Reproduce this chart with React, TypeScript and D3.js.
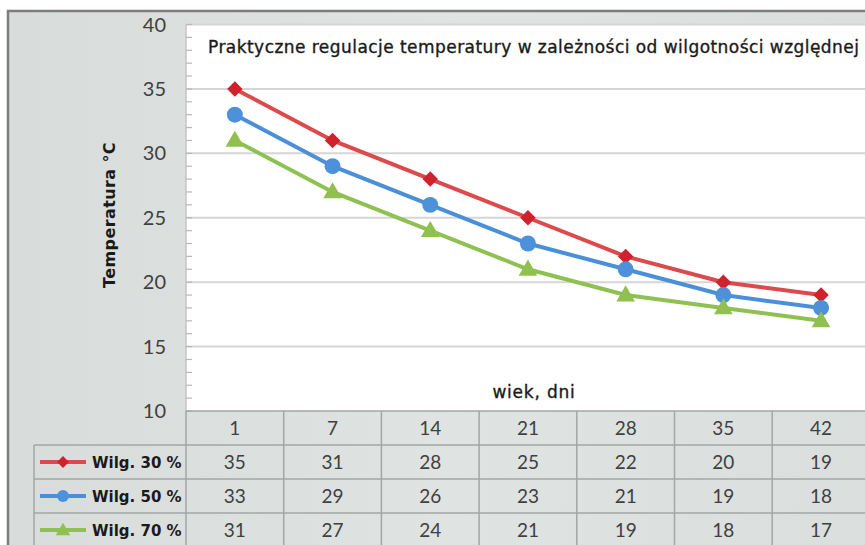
import React from "react";
import * as d3 from "d3";

const days = ["1", "7", "14", "21", "28", "35", "42"];
const wilg30 = [35, 31, 28, 25, 22, 20, 19];
const wilg50 = [33, 29, 26, 23, 21, 19, 18];
const wilg70 = [31, 27, 24, 21, 19, 18, 17];
const seriesNames = ["Wilg. 30 %", "Wilg. 50 %", "Wilg. 70 %"];
const yTicks = [10, 15, 20, 25, 30, 35, 40];

const width = 865;
const height = 545;

const series = [
  { name: seriesNames[0], values: wilg30, line: "#db4a4c", marker: "#d0222c", shape: "diamond" },
  { name: seriesNames[1], values: wilg50, line: "#4a8fd8", marker: "#4c91da", shape: "circle" },
  { name: seriesNames[2], values: wilg70, line: "#8ec152", marker: "#8fc050", shape: "triangle" },
];

const plotLeft = 186;
const plotTop = 24.5;
const plotBottom = 411;
const rowH = 34;
const labelLeft = 34;

let xScale = d3
  .scaleBand()
  .domain(days)
  .range([plotLeft, plotLeft + 97.7 * days.length])
  .padding(0);

let yScale = d3.scaleLinear().domain([10, 40]).range([plotBottom, plotTop]);

let lineGen = d3
  .line<number>()
  .x((d, i) => xScale(days[i])! + xScale.bandwidth() / 2)
  .y((d) => yScale(d));

let symbolPath = (shape: string, big: boolean) => {
  if (shape === "diamond") {
    return d3.symbol(d3.symbolSquare, big ? 120 : 70)()!;
  } else if (shape === "circle") {
    return d3.symbol(d3.symbolCircle, big ? 200 : 110)()!;
  }
  return d3.symbol(d3.symbolTriangle, big ? 150 : 90)()!;
};

const Marker = ({ shape, x, y, fill, big }: any) => {
  let rot = shape === "diamond" ? 45 : 0;
  let dy = shape === "triangle" ? 1 : 0;
  return (
    <path
      d={symbolPath(shape, big)}
      transform={"translate(" + x + "," + (y + dy) + ") rotate(" + rot + ")"}
      fill={fill}
    />
  );
};

// slightly heavier than regular, like the original's medium weight
const medium = { stroke: "#1a1a1a", strokeWidth: 0.35 };

const App = () => {
  let minorTicks = d3.range(10, 41, 1);
  let rightEdge = plotLeft + 97.7 * days.length;
  let tableBottom = plotBottom + rowH * 4;
  return (
    <svg
      width={width}
      height={height}
      style={{ position: "absolute", left: 0, top: 0 }}
    >
      <defs>
        <linearGradient id="bg" x1="0" y1="0" x2="1" y2="0">
          <stop offset="0" stopColor="#d8dddc" />
          <stop offset="0.5" stopColor="#dfe3e2" />
          <stop offset="1" stopColor="#dadfde" />
        </linearGradient>
      </defs>
      {/* frame */}
      <rect
        x={8}
        y={11}
        width={width + 20}
        height={height + 20}
        fill="url(#bg)"
        stroke="#7d7d7d"
        strokeWidth={2.5}
      />
      {/* plot area */}
      <rect
        x={plotLeft}
        y={plotTop}
        width={width - plotLeft + 10}
        height={plotBottom - plotTop}
        fill="#ffffff"
      />
      {yTicks.slice(1).map((t) => (
        <line
          key={"g" + t}
          x1={plotLeft}
          x2={rightEdge}
          y1={yScale(t)}
          y2={yScale(t)}
          stroke="#d6d6d6"
          strokeWidth={2}
        />
      ))}
      <line
        x1={plotLeft}
        x2={plotLeft}
        y1={plotTop}
        y2={plotBottom}
        stroke="#c4c4c4"
        strokeWidth={1.5}
      />
      {minorTicks.map((t) => (
        <line
          key={"m" + t}
          x1={plotLeft}
          x2={plotLeft + 6}
          y1={yScale(t)}
          y2={yScale(t)}
          stroke="#b8b8b8"
          strokeWidth={1.2}
        />
      ))}
      {yTicks.map((t) => (
        <text
          key={"y" + t}
          x={166}
          y={yScale(t) + 7}
          textAnchor="end"
          fontFamily="Lato"
          fontSize={20}
          fill="#404040"
        >
          {t}
        </text>
      ))}
      <text
        transform={"translate(115," + 215 + ") rotate(-90)"}
        textAnchor="middle"
        fontFamily="DejaVu Sans"
        fontWeight="bold"
        fontSize={16}
        letterSpacing={0.4}
        fill="#1a1a1a"
      >
        Temperatura °C
      </text>
      <text
        x={208}
        y={53}
        fontFamily="DejaVu Sans"
        fontSize={17}
        letterSpacing={0.45}
        fill="#1a1a1a"
        {...medium}
      >
        Praktyczne regulacje temperatury w zależności od wilgotności względnej
      </text>
      <text
        x={534}
        y={398}
        textAnchor="middle"
        fontFamily="DejaVu Sans"
        fontSize={17}
        letterSpacing={0.8}
        fill="#1a1a1a"
        {...medium}
      >
        wiek, dni
      </text>

      {/* series */}
      {series.map((s) => (
        <g key={s.name}>
          <path
            d={lineGen(s.values)!}
            fill="none"
            stroke={s.line}
            strokeWidth={4}
          />
          {s.values.map((v, i) => (
            <Marker
              key={i}
              shape={s.shape}
              x={xScale(days[i])! + xScale.bandwidth() / 2}
              y={yScale(v)}
              fill={s.marker}
              big={true}
            />
          ))}
        </g>
      ))}

      {/* data table */}
      <g stroke="#a3a6a6" strokeWidth={1.5}>
        <line x1={plotLeft} x2={rightEdge} y1={plotBottom} y2={plotBottom} />
        {[1, 2, 3].map((r) => (
          <line
            key={"h" + r}
            x1={labelLeft}
            x2={rightEdge}
            y1={plotBottom + rowH * r}
            y2={plotBottom + rowH * r}
          />
        ))}
        <line
          x1={labelLeft}
          x2={labelLeft}
          y1={plotBottom + rowH}
          y2={tableBottom}
        />
        {days.map((d) => (
          <line
            key={"v" + d}
            x1={xScale(d)!}
            x2={xScale(d)!}
            y1={plotBottom}
            y2={tableBottom}
          />
        ))}
      </g>
      {days.map((d) => (
        <text
          key={"c" + d}
          x={xScale(d)! + xScale.bandwidth() / 2}
          y={plotBottom + rowH / 2 + 7}
          textAnchor="middle"
          fontFamily="Lato"
          fontSize={19}
          fill="#404040"
        >
          {d}
        </text>
      ))}
      {series.map((s, r) => {
        let cy = plotBottom + rowH * (r + 1) + rowH / 2;
        return (
          <g key={"row" + s.name}>
            <line x1={40} x2={86} y1={cy} y2={cy} stroke={s.line} strokeWidth={4} />
            <Marker shape={s.shape} x={63} y={cy} fill={s.marker} big={false} />
            <text
              x={92}
              y={cy + 6}
              fontFamily="DejaVu Sans"
              fontWeight="bold"
              fontSize={15}
              fill="#1a1a1a"
            >
              {s.name}
            </text>
            {s.values.map((v, i) => (
              <text
                key={i}
                x={xScale(days[i])! + xScale.bandwidth() / 2}
                y={cy + 7}
                textAnchor="middle"
                fontFamily="Lato"
                fontSize={19}
                fill="#404040"
              >
                {v}
              </text>
            ))}
          </g>
        );
      })}
    </svg>
  );
};

export default App;
